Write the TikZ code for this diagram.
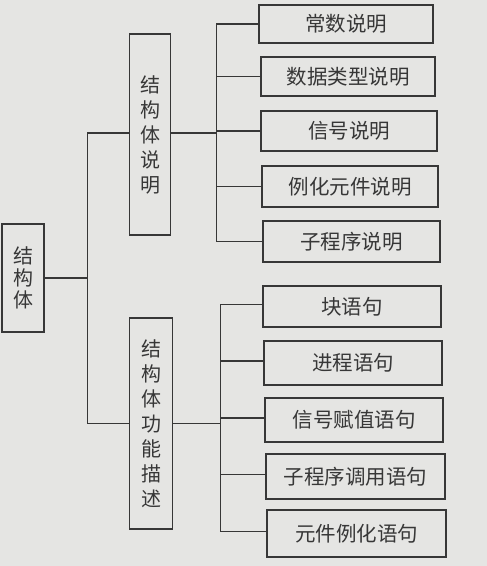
\documentclass[tikz,border=0pt]{standalone}
\usepackage{fontspec}
\setmainfont{Noto Sans CJK SC}
\usepackage{xcolor}
\usepackage{tikz}

\definecolor{paper}{RGB}{229,229,227}
\definecolor{ink}{RGB}{55,55,55}

\begin{document}
\begin{tikzpicture}[x=1pt, y=-1pt,
        every node/.style={text=ink},
        box/.style={draw=ink, line width=1.2pt, inner sep=0pt, align=center},
        upright/.style={box, font=\fontsize{20}{25}\selectfont},
        leaf/.style={box, font=\fontsize{20.5}{24}\selectfont},
        link/.style={draw=ink, line width=1.2pt}]
            \fill[paper] (0,0) rectangle (487,566);
            \useasboundingbox (0,0) rectangle (487,566);

            % root
            \node[upright, minimum width=42pt, minimum height=108pt,
                  font=\fontsize{20}{22}\selectfont] (root) at (23,278) {结\\构\\体};

            % second level
            \node[upright, minimum width=41pt, minimum height=201pt] (decl) at (150,134.5) {结\\构\\体\\说\\明};
            \node[upright, minimum width=43pt, minimum height=211pt] (func) at (151,423.5) {结\\构\\体\\功\\能\\描\\述};

            % declarations
            \node[leaf, minimum width=174pt, minimum height=38pt] (const) at (346,24) {常数说明};
            \node[leaf, minimum width=174pt, minimum height=39pt] (dtype) at (348,76.5) {数据类型说明};
            \node[leaf, minimum width=176pt, minimum height=40pt] (signal) at (349,131) {信号说明};
            \node[leaf, minimum width=176pt, minimum height=41pt] (inst) at (350,186.5) {例化元件说明};
            \node[leaf, minimum width=177pt, minimum height=41pt] (subprog) at (351.5,241.5) {子程序说明};

            % statements
            \node[leaf, minimum width=178pt, minimum height=41pt] (block) at (352,306.5) {块语句};
            \node[leaf, minimum width=178pt, minimum height=44pt] (process) at (353,363) {进程语句};
            \node[leaf, minimum width=178pt, minimum height=44pt] (assign) at (354,420) {信号赋值语句};
            \node[leaf, minimum width=179pt, minimum height=45pt] (call) at (355.5,476.5) {子程序调用语句};
            \node[leaf, minimum width=179pt, minimum height=47pt] (compinst) at (356.5,533.5) {元件例化语句};

            % connectors
            \draw[link] (root.east) -- ++(43,0) coordinate (trunk);
            \draw[link] (decl.west |- 0,133) -| (trunk) |- (func.west);
            \draw[link] (decl.east |- 0,133) -- ++(45,0) coordinate (declbus);
            \draw[link] (func.east) -- ++(47,0) coordinate (funcbus);
            \foreach \n in {const, dtype, signal, inst, subprog}
                \draw[link] (declbus) |- (\n.west);
            \foreach \n in {block, process, assign, call, compinst}
                \draw[link] (funcbus) |- ([yshift=2pt]\n.west);
        \end{tikzpicture}
\end{document}
